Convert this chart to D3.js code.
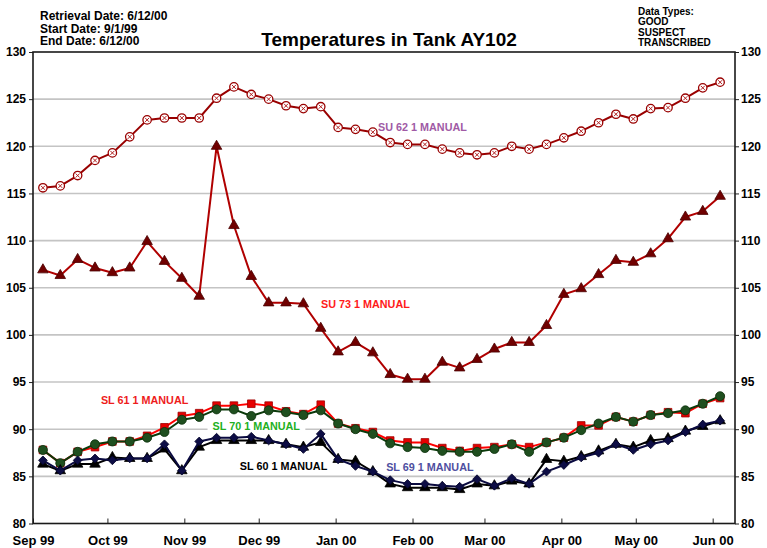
<!DOCTYPE html>
<html>
<head>
<meta charset="utf-8">
<script src="https://cdn.jsdelivr.net/npm/d3@7"></script>
<style>
    body { margin: 0; background: #fff; }
    svg text { font-family: "Liberation Sans", Arial, Helvetica, sans-serif; font-weight: bold; }
</style>
</head>
<body>
<svg id="chart" width="767" height="548"></svg>
<script>
// weekly readings, Sep 99 - Jun 00
const dates = [
    '1999-09-05', '1999-09-12', '1999-09-19', '1999-09-26', '1999-10-03', '1999-10-10', '1999-10-17', '1999-10-24',
    '1999-10-31', '1999-11-07', '1999-11-14', '1999-11-21', '1999-11-28', '1999-12-05', '1999-12-12', '1999-12-19',
    '1999-12-26', '2000-01-02', '2000-01-09', '2000-01-16', '2000-01-23', '2000-01-30', '2000-02-06', '2000-02-13',
    '2000-02-20', '2000-02-27', '2000-03-05', '2000-03-12', '2000-03-19', '2000-03-26', '2000-04-02', '2000-04-09',
    '2000-04-16', '2000-04-23', '2000-04-30', '2000-05-07', '2000-05-14', '2000-05-21', '2000-05-28', '2000-06-04',
];

const su62 = [115.6, 115.8, 116.9, 118.5, 119.3, 121.0, 122.8, 123.0, 123.0, 123.0, 125.1, 126.3, 125.5, 125.0, 124.3, 124.0,
    124.2, 122.0, 121.8, 121.5, 120.4, 120.2, 120.2, 119.7, 119.3, 119.1, 119.3, 120.0, 119.7, 120.2, 120.9, 121.6,
    122.5, 123.4, 122.9, 124.0, 124.1, 125.1, 126.2, 126.8];
const su73 = [106.9, 106.3, 108.0, 107.1, 106.6, 107.1, 109.9, 107.8, 106.0, 104.1, 120.0, 111.6, 106.2, 103.4, 103.4, 103.3,
    100.7, 98.2, 99.2, 98.1, 95.8, 95.3, 95.3, 97.1, 96.5, 97.4, 98.5, 99.2, 99.2, 101.0, 104.3, 104.9,
    106.4, 107.9, 107.7, 108.6, 110.2, 112.5, 113.1, 114.7];
const sl61 = [87.8, 86.4, 87.6, 88.1, 88.7, 88.7, 89.3, 90.2, 91.4, 91.7, 92.5, 92.5, 92.7, 92.5, 91.9, 91.6,
    92.6, 90.6, 90.1, 89.7, 88.8, 88.6, 88.6, 88.0, 87.7, 88.0, 88.1, 88.4, 88.1, 88.6, 89.1, 90.4,
    90.4, 91.3, 90.8, 91.5, 91.8, 91.7, 92.7, 93.3];
const sl70 = [87.8, 86.4, 87.6, 88.4, 88.7, 88.7, 89.1, 89.7, 91.0, 91.3, 92.1, 92.1, 91.4, 92.0, 91.8, 91.5,
    92.0, 90.6, 90.0, 89.5, 88.5, 88.1, 88.0, 87.7, 87.6, 87.6, 87.9, 88.4, 87.6, 88.6, 89.1, 89.9,
    90.6, 91.3, 90.8, 91.5, 91.7, 92.0, 92.7, 93.5];
const sl60 = [86.3, 85.6, 86.3, 86.3, 87.0, 86.9, 86.9, 87.9, 85.6, 88.1, 88.8, 88.8, 88.8, 88.8, 88.4, 88.1,
    88.6, 86.8, 86.6, 85.5, 84.2, 83.8, 83.8, 83.8, 83.6, 84.2, 84.0, 84.5, 84.2, 86.8, 86.6, 87.1,
    87.7, 88.4, 88.1, 88.8, 89.0, 89.8, 90.3, 90.9];
const sl69 = [86.7, 85.6, 86.7, 86.9, 86.7, 86.9, 86.9, 88.4, 85.6, 88.7, 89.1, 89.1, 89.2, 88.8, 88.4, 87.9,
    89.5, 86.8, 86.1, 85.5, 84.6, 84.2, 84.2, 84.0, 83.9, 84.7, 84.0, 84.8, 84.2, 85.5, 86.2, 87.0,
    87.5, 88.4, 87.8, 88.4, 88.8, 89.7, 90.5, 90.9];

const yTicks = [80, 85, 90, 95, 100, 105, 110, 115, 120, 125, 130];
const monthTicks = ['1999-09-01', '1999-10-01', '1999-11-01', '1999-12-01', '2000-01-01',
    '2000-02-01', '2000-03-01', '2000-04-01', '2000-05-01', '2000-06-01'];
const monthLabels = ['Sep 99', 'Oct 99', 'Nov 99', 'Dec 99', 'Jan 00', 'Feb 00', 'Mar 00', 'Apr 00', 'May 00', 'Jun 00'];

const infoLines = ['Retrieval Date: 6/12/00', 'Start Date: 9/1/99', 'End Date: 6/12/00'];
const typeLines = ['Data Types:', 'GOOD', 'SUSPECT', 'TRANSCRIBED'];
const title = 'Temperatures in Tank AY102';

const seriesNames = ['SU 62 1 MANUAL', 'SU 73 1 MANUAL', 'SL 61 1 MANUAL', 'SL 70 1 MANUAL', 'SL 60 1 MANUAL', 'SL 69 1 MANUAL'];

const parse = d3.utcParse('%Y-%m-%d');

const layout = {
    left: 33, right: 735, top: 52, bottom: 523.5,
};

// where each series name sits (date, value)
const labelSpots = [
    { date: '2000-02-05', value: 122.0 },
    { date: '2000-01-13', value: 103.3 },
    { date: '1999-10-16', value: 93.1 },
    { date: '1999-11-30', value: 90.3 },
    { date: '1999-12-11', value: 86.1 },
    { date: '2000-02-08', value: 86.0 },
];

// styles per series, same order as seriesNames
const styles = [
    { line: '#990000', marker: 'xcircle', fill: '#fff', stroke: '#990000', label: '#a05aa5' },
    { line: '#b00000', marker: 'triangle', fill: '#700000', stroke: '#4a0000', label: '#ff1a1a' },
    { line: '#ff0000', marker: 'square', fill: '#e60000', stroke: '#a00000', label: '#ee1c1c' },
    { line: '#0b3a0b', marker: 'circle', fill: '#1f4f1f', stroke: '#0a300a', label: '#22b022' },
    { line: '#000000', marker: 'triangle', fill: '#000', stroke: '#000', label: '#000' },
    { line: '#0a0a40', marker: 'diamond', fill: '#0d0d45', stroke: '#05052a', label: '#4f4f9f' },
];

function buildSeries() {
    let values = [su62, su73, sl61, sl70, sl60, sl69];
    return seriesNames.map((name, i) => ({
        name: name,
        style: styles[i],
        points: values[i].map((v, j) => ({ date: parse(dates[j]), value: v })),
    }));
}

function drawChart() {
    let svg = d3.select('#chart');
    let series = buildSeries();

    let x = d3.scaleUtc()
        .domain([parse('1999-09-01'), parse('2000-06-10')])
        .range([layout.left, layout.right]);
    let y = d3.scaleLinear()
        .domain([80, 130])
        .range([layout.bottom, layout.top]);

    svg.append('rect')
        .attr('width', 767).attr('height', 548).attr('fill', '#fff');

    // header text
    svg.selectAll('.info')
        .data(infoLines)
        .enter()
        .append('text')
        .attr('x', 40)
        .attr('y', (d, i) => 20 + i * 12.5)
        .style('font-size', '12px')
        .text(d => d);

    svg.selectAll('.types')
        .data(typeLines)
        .enter()
        .append('text')
        .attr('x', 638)
        .attr('y', (d, i) => 15 + i * 10.3)
        .style('font-size', '10px')
        .text(d => d);

    svg.append('text')
        .attr('x', 389)
        .attr('y', 46)
        .attr('text-anchor', 'middle')
        .style('font-size', '19px')
        .text(title);

    // horizontal grid
    svg.append('g')
        .selectAll('line')
        .data(yTicks.slice(1, -1))
        .enter()
        .append('line')
        .attr('x1', layout.left).attr('x2', layout.right)
        .attr('y1', d => y(d)).attr('y2', d => y(d))
        .attr('stroke', '#c4c4c4')
        .attr('stroke-width', 1.6);

    // left and right axes
    let leftAxis = d3.axisLeft(y).tickValues(yTicks).tickSize(4).tickPadding(3);
    let rightAxis = d3.axisRight(y).tickValues(yTicks).tickSize(4).tickPadding(2);
    let bottomAxis = d3.axisBottom(x)
        .tickValues(monthTicks.map(parse))
        .tickSize(-5)
        .tickPadding(12)
        .tickFormat((d, i) => monthLabels[i]);

    let gl = svg.append('g').attr('transform', `translate(${layout.left},0)`).call(leftAxis);
    let gr = svg.append('g').attr('transform', `translate(${layout.right},0)`).call(rightAxis);
    let gb = svg.append('g').attr('transform', `translate(0,${layout.bottom})`).call(bottomAxis);

    for (let g of [gl, gr, gb]) {
        g.select('.domain').remove();
        g.selectAll('line').attr('stroke', '#222').attr('stroke-width', 1);
        g.selectAll('text')
            .attr('fill', '#000')
            .style('font-family', '"Liberation Sans", Arial, sans-serif')
            .style('font-weight', 'bold');
    }
    gl.selectAll('text').style('font-size', '12px');
    gr.selectAll('text').style('font-size', '12px');
    gb.selectAll('text').style('font-size', '13px');

    // plot frame
    svg.append('rect')
        .attr('x', layout.left).attr('y', layout.top)
        .attr('width', layout.right - layout.left)
        .attr('height', layout.bottom - layout.top)
        .attr('fill', 'none')
        .attr('stroke', '#1a1a1a')
        .attr('stroke-width', 1.6);

    // series names
    series.forEach((s, i) => {
        let spot = labelSpots[i];
        let t = svg.append('text')
            .attr('x', x(parse(spot.date)))
            .attr('y', y(spot.value))
            .attr('dy', '0.36em')
            .attr('text-anchor', 'middle')
            .attr('fill', s.style.label)
            .style('font-size', '10.8px')
            .text(s.name);
        let box = t.node().getBBox();
        svg.insert('rect', function() { return t.node(); })
            .attr('x', box.x - 5).attr('y', box.y + 1)
            .attr('width', box.width + 10).attr('height', box.height - 2)
            .attr('fill', '#fff');
    });

    let line = d3.line()
        .x(d => x(d.date))
        .y(d => y(d.value));

    // lines + markers
    series.forEach(s => {
        let g = svg.append('g');
        g.append('path')
            .datum(s.points)
            .attr('d', line)
            .attr('fill', 'none')
            .attr('stroke', s.style.line)
            .attr('stroke-width', 2)
            .attr('stroke-linejoin', 'round');

        let marks = g.selectAll('.mark')
            .data(s.points)
            .enter()
            .append('g')
            .attr('transform', d => `translate(${x(d.date)},${y(d.value)})`);

        let kind = s.style.marker;
        if (kind == 'xcircle') {
            marks.append('circle')
                .attr('r', 4.2)
                .attr('fill', s.style.fill)
                .attr('stroke', s.style.stroke)
                .attr('stroke-width', 1.3);
            marks.append('path')
                .attr('d', 'M-2,-2L2,2M-2,2L2,-2')
                .attr('stroke', '#b02020')
                .attr('stroke-width', 1);
        } else {
            let sym = {
                triangle: d3.symbol(d3.symbolTriangle, 48),
                square: d3.symbol(d3.symbolSquare, 58),
                circle: d3.symbol(d3.symbolCircle, 64),
                diamond: d3.symbol(d3.symbolSquare, 38),
            }[kind];
            marks.append('path')
                .attr('d', sym)
                .attr('transform', kind == 'diamond' ? 'rotate(45)' : null)
                .attr('fill', s.style.fill)
                .attr('stroke', s.style.stroke)
                .attr('stroke-width', 0.8);
        }
    });
}

drawChart();
</script>
</body>
</html>
